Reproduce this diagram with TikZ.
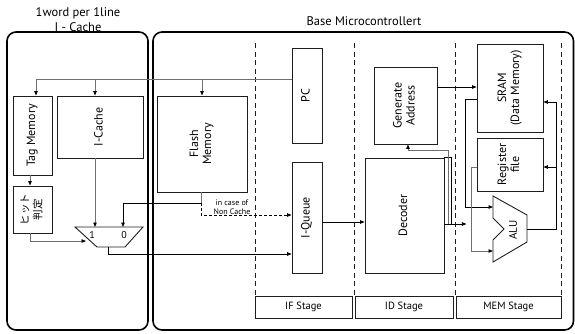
\documentclass[tikz,border=0pt]{standalone}
\usepackage{fontspec}
\setmainfont{PT Sans}
\newfontfamily\jpfont{Noto Sans CJK JP}
\usepackage{tikz}
\usetikzlibrary{arrows.meta, positioning, calc}
\definecolor{WireGray}{RGB}{112, 112, 112}
\definecolor{LineDark}{RGB}{30, 30, 30}
\newcommand{\vlab}[1]{\rotatebox{90}{\begin{tabular}{@{}c@{}}#1\end{tabular}}}
\newcommand{\jp}[1]{{\jpfont\fontsize{10.5}{11.5}\selectfont #1}}

\begin{document}
\begin{tikzpicture}[
    x=1pt, y=-1pt,
    font=\fontsize{12}{13}\selectfont,
    unitbox/.style n args={2}{rectangle, draw=LineDark, line width=0.9pt, inner sep=0pt, minimum width=#1, minimum height=#2},
    groupbox/.style={rectangle, rounded corners=9pt, draw=black, line width=1.6pt, inner sep=0pt},
    stagebox/.style={rectangle, draw=LineDark, line width=0.7pt, inner sep=0pt, minimum width=#1, minimum height=22pt, font=\fontsize{10.5}{12}\selectfont},
    stageline/.style={draw=LineDark, line width=0.8pt, dash pattern=on 5pt off 3.5pt},
    muxline/.style={draw=LineDark, line width=0.9pt},
    wire/.style={draw=black, line width=0.7pt},
    gwire/.style={draw=WireGray, line width=0.9pt},
    arr/.style={-{Triangle[length=4.5pt, width=3.5pt, color=black]}}
]
    \useasboundingbox (0,0) rectangle (575,333);

    % Containers
    \node[groupbox, minimum width=141pt, minimum height=298pt] (cachegrp) at (77.5,181) {};
    \node[groupbox, minimum width=420.5pt, minimum height=298pt] (mcugrp) at (363.25,181) {};
    \node[align=center, font=\fontsize{12.5}{15}\selectfont] (cachetitle) at (78,19.5) {1word per 1line\\I - Cache};
    \node[font=\fontsize{12.5}{15}\selectfont] (mcutitle) at (364,21) {Base Microcontrollert};

    % Stage dividers
    \foreach \xs in {255,354,455,561}
        \draw[stageline] (\xs,43) -- (\xs,296);

    % Blocks
    \node[unitbox={39pt}{79pt}] (tag) at (32.5,135.5) {\vlab{Tag Memory}};
    \node[unitbox={39pt}{47pt}] (hit) at (32.5,209.5) {\vlab{\jp{ヒット}\\\jp{判定}}};
    \node[unitbox={86pt}{62pt}] (icache) at (100,127) {\vlab{I-Cache}};
    \node[unitbox={90pt}{96pt}] (flash) at (202,144) {\vlab{Flash\\Memory}};
    \node[unitbox={30pt}{95pt}] (pc) at (307,95.5) {\vlab{PC}};
    \node[unitbox={30pt}{111pt}] (iqueue) at (307,217.5) {\vlab{I-Queue}};
    \node[unitbox={63pt}{77pt}] (genaddr) at (405.5,105.5) {\vlab{Generate\\Address}};
    \node[unitbox={79pt}{115pt}] (decoder) at (404.5,215.5) {\vlab{Decoder}};
    \node[unitbox={66pt}{88pt}] (sram) at (510,88) {\vlab{SRAM\\(Data Memory)}};
    \node[unitbox={66pt}{53pt}] (regfile) at (510,164.5) {\vlab{Register\\file}};

    % Stages
    \node[stagebox=97pt] (ifstage) at (303.5,307) {IF Stage};
    \node[stagebox=98pt] (idstage) at (404,307) {ID Stage};
    \node[stagebox=105pt] (memstage) at (508.5,307) {MEM Stage};

    % Mux
    \draw[muxline] (75,227) -- (143,227) -- (125,247) -- (97,247) -- cycle;
    \node[font=\fontsize{10}{12}\selectfont] (muxone) at (92,235) {1};
    \node[font=\fontsize{10}{12}\selectfont] (muxzero) at (124,235) {0};
    \coordinate (mux-in1) at (95,227);
    \coordinate (mux-in0) at (123,227);
    \coordinate (mux-sel) at (86,241);
    \coordinate (mux-out) at (108,247);

    % ALU
    \draw[muxline] (493,196) -- (527,215) -- (527,242) -- (493,262) -- (493,240) -- (504,229) -- (493,218) -- cycle;
    \node[rotate=90, font=\fontsize{11}{12}\selectfont] (alu) at (513,230) {ALU};
    \coordinate (alu-a) at (493,207);
    \coordinate (alu-b) at (493,251);
    \coordinate (alu-out) at (527,229);

    % Fetch path
    \coordinate (feedin) at ($(pc.west)+(0,-16.5)$);
    \draw[gwire, arr] (feedin) -| ($(tag.north)+(3.5,0)$);
    \draw[gwire, arr] ($(icache.north |- feedin)+(-5,0)$) -- ($(icache.north)+(-5,0)$);
    \draw[gwire, arr] (flash.north |- feedin) -- (flash.north);
    \draw[gwire, arr] ($(tag.south)+(-2.5,0)$) -- ($(hit.north)+(-2.5,0)$);
    \draw[gwire, arr] ($(hit.south)+(-2.5,0)$) |- (mux-sel);
    \draw[gwire, arr] ($(icache.south)+(-5,0)$) -- (mux-in1);

    \coordinate (nocache) at ($(flash.south)+(-1,11)$);
    \draw[gwire] ($(flash.south)+(-1,0)$) -- (nocache);
    \draw[wire, arr] (nocache) -| (mux-in0);
    \draw[wire, arr, dash pattern=on 3pt off 2pt] (nocache) |- ($(iqueue.west)+(0,-2.5)$);
    \node[align=center, font=\fontsize{8}{9.5}\selectfont] (nclabel) at (232,207) {in case of\\Non Cache};

    \draw[wire, arr] (mux-out) |- ($(iqueue.west)+(0,36.5)$);
    \draw[wire, arr] ($(iqueue.east)+(0,4.5)$) -- ($(decoder.west)+(0,6.5)$);

    % Decode / memory
    \coordinate (decout) at ($(decoder.east)+(22,8.5)$);
    \draw[wire, arr] ($(decoder.east)+(0,8.5)$) -- (decout);
    \draw[wire] (decoder.north east) -| ($(decoder.east)+(6.5,8.5)$);
    \draw[gwire, arr] ($(decoder.east)+(4,8.5)$) |- ($(genaddr.south)+(2.5,6)$) -- ($(genaddr.south)+(2.5,0)$);
    \draw[wire, arr] ($(genaddr.east)+(0,-18.5)$) -- ($(sram.west)+(0,-1)$);
    \draw[wire, arr] ($(sram.west)+(0,11)$) -- ++(-11,0) |- (alu-a);
    \draw[gwire, arr] ($(regfile.west)+(0,2.5)$) -- ++(-5,0) |- (alu-b);
    \draw[wire, arr] (alu-out) -| ($(sram.east)+(13,14)$) -- ($(sram.east)+(0,14)$);
    \draw[wire, arr] ($(regfile.east)+(13,2.5)$) -- ($(regfile.east)+(0,2.5)$);

\end{tikzpicture}
\end{document}
